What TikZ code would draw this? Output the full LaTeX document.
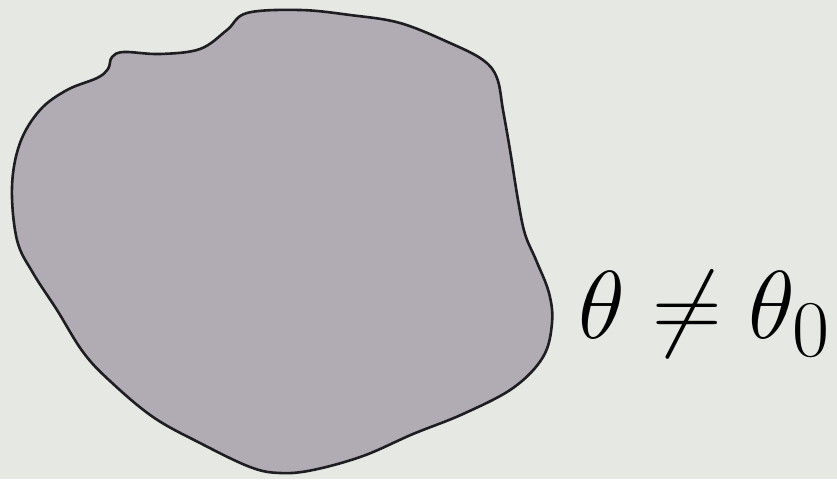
\documentclass[tikz,border=0pt]{standalone}
\usepackage{amsmath}
\definecolor{bgcol}{HTML}{E6E8E3}
\definecolor{blobfill}{HTML}{B1ABB4}
\definecolor{blobline}{HTML}{1E1E22}
\tikzset{
  blob/.style={fill=blobfill, draw=blobline, line width=2.6pt, line join=round},
  lbl/.style={anchor=base west, inner sep=0pt, text=black, font=\Huge, scale=3.88}
}
\begin{document}
\begin{tikzpicture}[x=1pt,y=-1pt]
\fill[bgcol] (0,0) rectangle (837,479);
\useasboundingbox (0,0) rectangle (837,479);
\draw[blob] plot[smooth cycle, tension=0.6] coordinates {
 (247,13) (300,10) (350,15) (400,23) (450,43) (483,60) (497,78) (503,110)
 (510,150) (518,200) (525,234) (536,260) (549,293) (552,323) (543,357)
 (513,388) (463,414) (413,434) (363,456) (313,470) (280,473) (250,467)
 (200,443) (153,417) (110,381) (83,352) (57,310) (33,273) (17,240)
 (12,187) (20,143) (40,110) (67,90) (97,78) (108,69) (112,57) (124,52)
 (160,54) (200,49) (227,30)
};
\node[lbl] (label) at (578,338) {$\theta \neq \theta_0$};
\end{tikzpicture}
\end{document}
